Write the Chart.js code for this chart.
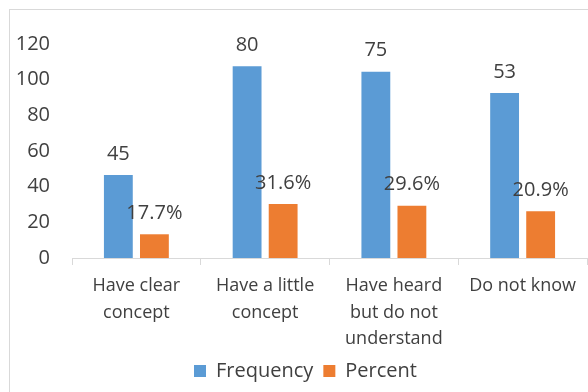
<!DOCTYPE html>
<html>
<head>
<meta charset="utf-8">
<script src="https://cdn.jsdelivr.net/npm/chart.js@4"></script>
<style>
  html, body { margin: 0; padding: 0; background: #fff; overflow: hidden; }
  .frame { position: absolute; left: 9px; top: 9px; width: 620px; height: 420px; border: 1px solid #d9d9d9; }
  .wrap { position: absolute; left: 0; top: 0; width: 588px; height: 392px; }
</style>
</head>
<body>
<div class="frame"></div>
<div class="wrap"><canvas id="chart" width="588" height="392"></canvas></div>
<script>
const categories = [
  ['Have clear', 'concept'],
  ['Have a little', 'concept'],
  ['Have heard', 'but do not', 'understand'],
  ['Do not know'],
];
// bar heights as drawn in the picture (they don't match the printed labels)
const frequency = [46.5, 107.5, 104.5, 92.5];
const percent = [13.3, 30.3, 29.3, 26.2];
// printed labels above the bars
const frequencyLabels = ['45', '80', '75', '53'];
const percentLabels = ['17.7%', '31.6%', '29.6%', '20.9%'];
const yTicks = [0, 20, 40, 60, 80, 100, 120];

const textColor = '#404040';
const fontFamily = '"Open Sans", "Noto Sans", sans-serif';

const barLabels = {
  id: 'barLabels',
  afterLayout(chart) {
    // legend sits a little right of the canvas centre in the original
    chart.legend.left = 24;
  },
  afterDatasetsDraw(chart) {
    const ctx = chart.ctx;
    ctx.save();
    ctx.font = `20px ${fontFamily}`;
    ctx.fillStyle = textColor;
    ctx.textAlign = 'center';
    ctx.textBaseline = 'middle';
    chart.data.datasets.forEach((ds, i) => {
      const meta = chart.getDatasetMeta(i);
      meta.data.forEach((bar, j) => {
        ctx.fillText(ds.labelsText[j], bar.x, bar.y - 21);
      });
    });
    ctx.restore();
  },
};

new Chart(document.getElementById('chart'), {
  type: 'bar',
  data: {
    labels: categories,
    datasets: [
      {
        label: 'Frequency',
        data: frequency,
        labelsText: frequencyLabels,
        backgroundColor: '#5B9BD5',
      },
      {
        label: 'Percent',
        data: percent,
        labelsText: percentLabels,
        backgroundColor: '#ED7D31',
      },
    ],
  },
  options: {
    responsive: false,
    animation: false,
    events: [],
    categoryPercentage: 0.56,
    barPercentage: 0.8,
    layout: { padding: { top: 44, left: 0, right: 1, bottom: 1 } },
    plugins: {
      tooltip: { enabled: false },
      legend: {
        position: 'bottom',
        labels: {
          boxWidth: 12,
          boxHeight: 12,
          padding: 10,
          color: textColor,
          font: { family: fontFamily, size: 20 },
        },
      },
    },
    scales: {
      x: {
        grid: {
          offset: true,
          drawOnChartArea: false,
          drawTicks: true,
          tickLength: 7,
          color: '#d9d9d9',
        },
        border: { display: true, color: '#d9d9d9' },
        ticks: {
          color: textColor,
          padding: 8,
          maxRotation: 0,
          autoSkip: false,
          font: { family: fontFamily, size: 18, lineHeight: 1.47 },
        },
        afterFit(scale) {
          scale.height = 93;
          scale.paddingLeft = 0;
          scale.paddingRight = 0;
        },
      },
      y: {
        min: 0,
        max: 120,
        grid: { display: false, drawTicks: false },
        border: { display: false },
        afterBuildTicks(scale) {
          scale.ticks = yTicks.map((v) => ({ value: v }));
        },
        ticks: {
          color: textColor,
          padding: 22,
          font: { family: fontFamily, size: 20 },
        },
        afterFit(scale) {
          scale.width = 72;
        },
      },
    },
  },
  plugins: [barLabels],
});
</script>
</body>
</html>
